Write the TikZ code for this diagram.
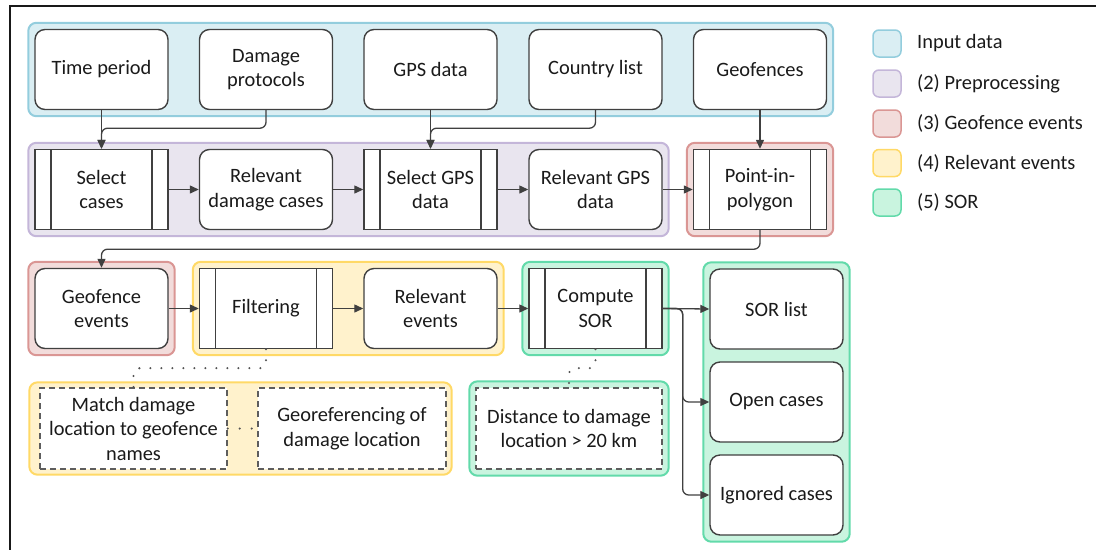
\documentclass[tikz,border=0pt]{standalone}
\usepackage{fontspec}
\setmainfont{Carlito}
\usetikzlibrary{arrows.meta,fit,backgrounds,calc}

\definecolor{inFill}{HTML}{DAEEF3}\definecolor{inLine}{HTML}{93CDDD}
\definecolor{ppFill}{HTML}{E9E5EF}\definecolor{ppLine}{HTML}{C4B6D9}
\definecolor{geFill}{HTML}{F2DCDB}\definecolor{geLine}{HTML}{DA9694}
\definecolor{reFill}{HTML}{FFF2CC}\definecolor{reLine}{HTML}{FFD966}
\definecolor{soFill}{HTML}{C9F4DF}\definecolor{soLine}{HTML}{62DAAA}
\definecolor{edge}{HTML}{404040}
\definecolor{txt}{HTML}{1A1A1A}

\begin{document}
\begin{tikzpicture}[x=1pt,y=-1pt,
  font=\fontsize{20.4}{24.5}\selectfont, text=txt,
  box/.style={draw=edge, line width=1.4pt, rounded corners=10pt, fill=white,
    minimum width=133pt, minimum height=80pt, inner sep=0pt, align=center},
  procbox/.style={draw=edge, line width=1.4pt, fill=white,
    minimum width=133pt, minimum height=80pt, inner sep=0pt, align=center,
    path picture={\draw[edge, line width=1.4pt]
      ([xshift=16pt]path picture bounding box.north west) -- ([xshift=16pt]path picture bounding box.south west)
      ([xshift=-16pt]path picture bounding box.north east) -- ([xshift=-16pt]path picture bounding box.south east);}},
  notebox/.style={draw=edge!85, line width=1.3pt, dash pattern=on 6pt off 4pt, fill=white,
    minimum height=81pt, inner sep=0pt, align=center},
  grp/.style={rounded corners=8pt, line width=2pt, inner sep=6pt},
  flow/.style={draw=edge, line width=1.3pt, rounded corners=6pt, -{Triangle[length=9pt,width=8pt]}},
  dotline/.style={draw=edge!90, line width=2.3pt, line cap=round, dash pattern=on 0pt off 11pt, rounded corners=6pt},
  legsq/.style={rounded corners=6pt, line width=1.5pt, minimum width=28pt, minimum height=27pt, inner sep=0pt},
  legtxt/.style={anchor=west, inner sep=0pt}
]
\useasboundingbox (0,0) rectangle (1096,550);

% outer frame
\draw[line width=1.5pt, black!90] (1096,6) -- (10,6) -- (10,550);

% input data
\node[box] (tp)   at (101.5,69.5) {Time period};
\node[box] (dp)   at (266,69.5)   {Damage\\protocols};
\node[box] (gps)  at (430.5,69.5) {GPS data};
\node[box] (cl)   at (595.5,69.5) {Country list};
\node[box] (geof) at (760,69.5)   {Geofences};

% preprocessing and point-in-polygon
\node[procbox] (selc)   at (101.5,189.5) {Select\\cases};
\node[box]     (reldmg) at (266,189.5)   {Relevant\\damage cases};
\node[procbox] (selgps) at (430.5,189.5) {Select GPS\\data};
\node[box]     (relgps) at (595.5,189.5) {Relevant GPS\\data};
\node[procbox] (pip)    at (760,189.5)   {Point-in-\\polygon};

% events and SOR
\node[box]     (gfe)    at (101.5,308.5) {Geofence\\events};
\node[procbox] (filt)   at (266,308.5)   {Filtering};
\node[box]     (relev)  at (430.5,308.5) {Relevant\\events};
\node[procbox] (csor)   at (595.5,308.5) {Compute\\SOR};

\node[box] (sorlist) at (776.5,309) {SOR list};
\node[box] (open)    at (776.5,402) {Open cases};
\node[box] (ign)     at (776.5,495) {Ignored cases};

% notes
\node[notebox, minimum width=187pt] (match) at (133.5,428.5) {Match damage\\location to geofence\\names};
\node[notebox, minimum width=188pt] (geor)  at (352,428.5)   {Georeferencing of\\damage location};
\node[notebox, minimum width=186pt] (dist)  at (569,428.5)   {Distance to damage\\location > 20 km};
\coordinate (mleft) at ($(match.west)+(-5,0)$);

% group backgrounds
\begin{scope}[on background layer]
  \node[grp, fill=inFill, draw=inLine, fit=(tp)(geof)] (gin) {};
  \node[grp, fill=ppFill, draw=ppLine, fit=(selc)(relgps)] (gpp) {};
  \node[grp, fill=geFill, draw=geLine, fit=(pip)] (gpip) {};
  \node[grp, fill=geFill, draw=geLine, fit=(gfe)] (ggfe) {};
  \node[grp, fill=reFill, draw=reLine, fit=(filt)(relev)] (grel) {};
  \node[grp, fill=soFill, draw=soLine, fit=(csor)] (gcsor) {};
  \node[grp, fill=soFill, draw=soLine, fit=(sorlist)(ign)] (gout) {};
  \node[grp, inner sep=5pt, fill=reFill, draw=reLine, fit=(match)(geor)(mleft)] (gnote1) {};
  \node[grp, fill=soFill, draw=soLine, fit=(dist)] (gnote2) {};
\end{scope}

% connectors
\draw[flow] (tp.south) -- (selc.north);
\draw[flow] (dp.south) -- ++(0,18) -| (selc.north);
\draw[flow] (gps.south) -- (selgps.north);
\draw[flow] (cl.south) -- ++(0,18) -| (selgps.north);
\draw[flow] (geof.south) -- (pip.north);

\draw[flow] (selc.east) -- (reldmg.west);
\draw[flow] (reldmg.east) -- (selgps.west);
\draw[flow] (selgps.east) -- (relgps.west);
\draw[flow] (relgps.east) -- (pip.west);

\draw[flow] (pip.south) -- ++(0,19) -| (gfe.north);

\draw[flow] (gfe.east) -- (filt.west);
\draw[flow] (filt.east) -- (relev.west);
\draw[flow] (relev.east) -- (csor.west);

\draw[flow] (csor.east) -- (sorlist.west);
\draw[flow] (csor.east) -- ++(20,0) |- (open.west);
\draw[flow] (csor.east) -- ++(20,0) |- (ign.west);

% dotted annotation links
\draw[dotline] (filt.south) -- ++(0,19) -| (match.north);
\draw[dotline] (csor.south) -- ++(0,19) -| (dist.north);
\draw[dotline, dash pattern=on 0pt off 12pt] (match.east) -- (geor.west);

% legend
\node[legsq, fill=inFill, draw=inLine] (l1) at (887,43.5)  {};
\node[legsq, fill=ppFill, draw=ppLine] (l2) at (887,83.5)  {};
\node[legsq, fill=geFill, draw=geLine] (l3) at (887,123.5) {};
\node[legsq, fill=reFill, draw=reLine] (l4) at (887,163)   {};
\node[legsq, fill=soFill, draw=soLine] (l5) at (887,202.5) {};
\node[legtxt] (t1) at (917,43.5)  {Input data};
\node[legtxt] (t2) at (917,83.5)  {(2) Preprocessing};
\node[legtxt] (t3) at (917,123.5) {(3) Geofence events};
\node[legtxt] (t4) at (917,163)   {(4) Relevant events};
\node[legtxt] (t5) at (917,202.5) {(5) SOR};
\end{tikzpicture}
\end{document}
